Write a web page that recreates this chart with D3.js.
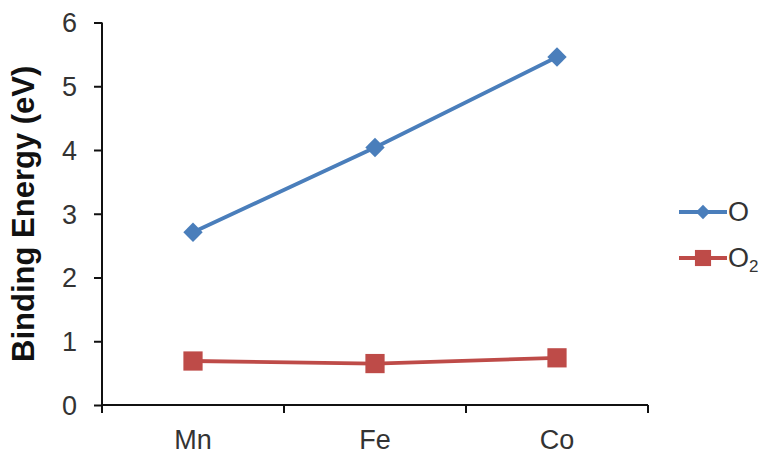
<!DOCTYPE html>
<html>
<head>
<meta charset="utf-8">
<script src="https://cdn.jsdelivr.net/npm/d3@7"></script>
<style>
  html, body { margin: 0; padding: 0; background: #fff; }
  svg text { font-family: "Liberation Sans", Arial, sans-serif; }
</style>
</head>
<body>
<svg id="chart" width="768" height="455"></svg>
<script>
// Binding energies (eV) of O and O2 on each metal
const metals = ["Mn", "Fe", "Co"];
const oValues = [2.71, 4.04, 5.46];
const o2Values = [0.69, 0.65, 0.74];
const yTicks = [0, 1, 2, 3, 4, 5, 6];

const svg = d3.select("#chart");
const plot = { left: 102, right: 648, top: 22.5, bottom: 405 };
const labelSize = 27;

const x = d3.scaleBand().domain(metals).range([plot.left, plot.right]).padding(0);
const y = d3.scaleLinear().domain([0, 6]).range([plot.bottom, plot.top]);

// Y axis
const yAxis = d3.axisLeft(y).tickValues(yTicks).tickFormat(d3.format("d"))
  .tickSize(8).tickSizeOuter(0).tickPadding(17);
const gy = svg.append("g").attr("transform", `translate(${plot.left},0)`).call(yAxis);
gy.select(".domain").attr("stroke", "#111").attr("stroke-width", 2)
  .attr("d", `M0,${plot.top}V${plot.bottom + 8}`);
gy.selectAll(".tick line").attr("stroke", "#111").attr("stroke-width", 2);
gy.selectAll(".tick text").attr("font-size", labelSize).attr("fill", "#333").attr("dy", "0.35em");

// X axis with ticks at category boundaries
const gx = svg.append("g").attr("transform", `translate(0,${plot.bottom})`);
gx.append("line").attr("x1", plot.left).attr("x2", plot.right)
  .attr("stroke", "#111").attr("stroke-width", 2);
const bounds = metals.map(m => x(m) + x.bandwidth());
gx.selectAll("line.tk").data(bounds).join("line").attr("class", "tk")
  .attr("x1", d => d).attr("x2", d => d).attr("y1", 0).attr("y2", 8)
  .attr("stroke", "#111").attr("stroke-width", 2);
gx.selectAll("text").data(metals).join("text")
  .attr("x", d => x(d) + x.bandwidth() / 2)
  .attr("y", 44)
  .attr("text-anchor", "middle")
  .attr("font-size", labelSize)
  .attr("fill", "#333")
  .text(d => d);

// Y axis title
svg.append("text")
  .attr("transform", `translate(34,${(plot.top + plot.bottom) / 2}) rotate(-90)`)
  .attr("text-anchor", "middle")
  .attr("font-size", 31)
  .attr("font-weight", "bold")
  .attr("fill", "#111")
  .text("Binding Energy (eV)");

const cx = m => x(m) + x.bandwidth() / 2;
const line = d3.line().x(d => cx(d.m)).y(d => y(d.v));

const series = [
  { values: oValues, color: "#4a7ebb", symbol: d3.symbolDiamond2, size: 240, legendSize: 130 },
  { values: o2Values, color: "#be4b48", symbol: d3.symbolSquare, size: 370, legendSize: 260 }
];

series.forEach(s => {
  const pts = metals.map((m, i) => ({ m, v: s.values[i] }));
  svg.append("path").datum(pts).attr("d", line)
    .attr("fill", "none").attr("stroke", s.color).attr("stroke-width", 3.8);
  svg.selectAll(null).data(pts).join("path")
    .attr("transform", d => `translate(${cx(d.m)},${y(d.v)})`)
    .attr("d", d3.symbol().type(s.symbol).size(s.size))
    .attr("fill", s.color);
});

// Legend
const legend = svg.append("g");
[212, 258].forEach((yPos, i) => {
  const s = series[i];
  legend.append("line").attr("x1", 679).attr("x2", 727).attr("y1", yPos).attr("y2", yPos)
    .attr("stroke", s.color).attr("stroke-width", 3.8);
  legend.append("path").attr("transform", `translate(703,${yPos})`)
    .attr("d", d3.symbol().type(s.symbol).size(s.legendSize))
    .attr("fill", s.color);
});
legend.append("text").attr("x", 728).attr("y", 221).attr("font-size", labelSize).attr("fill", "#333").text("O");
const t2 = legend.append("text").attr("x", 728).attr("y", 267).attr("font-size", labelSize).attr("fill", "#333");
t2.append("tspan").text("O");
t2.append("tspan").attr("font-size", 17).attr("dy", 5).text("2");
</script>
</body>
</html>
